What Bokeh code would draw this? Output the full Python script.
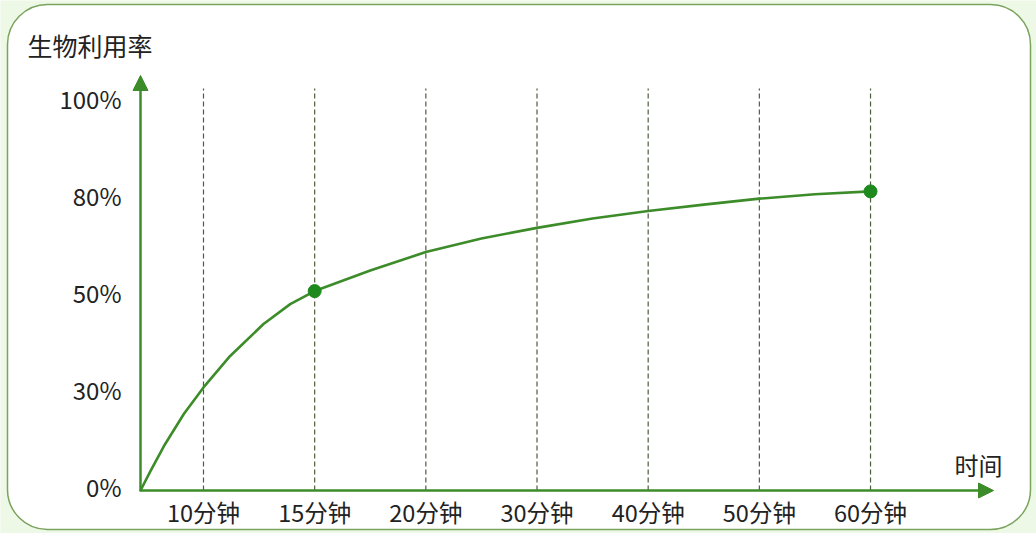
import numpy as np
from bokeh.plotting import figure
from bokeh.models import Range1d, Arrow, NormalHead
from bokeh.core.properties import value
from bokeh.embed import file_html
from bokeh.resources import INLINE

# ---------------- data ----------------
y_title = "生物利用率"
x_title = "时间"
tick_minutes = [10, 15, 20, 30, 40, 50, 60]
tick_labels = ["10分钟", "15分钟", "20分钟", "30分钟", "40分钟", "50分钟", "60分钟"]
y_tick_values = [0, 30, 50, 80, 100]
y_tick_labels = ["0%", "30%", "50%", "80%", "100%"]

# bioavailability curve (minutes, percent)
curve_minutes = [0, 1.6, 3.7, 6.9, 10, 11.2, 12.7, 13.9, 15, 17.5, 20, 25, 30, 35, 40, 45, 50, 55, 60]
curve_percent = [0, 6.1, 13.7, 23.8, 31.3, 37.8, 44.4, 48.5, 51.8, 58.2, 63.9, 68.1, 71.4,
                 74.3, 76.6, 78.6, 80.3, 81.2, 81.8]
marker_minutes = [15, 60]
marker_percent = [51.8, 81.8]

# ---------------- layout (pixel geometry) ----------------
W, H = 1036, 533
SLOT_PX = 111.17            # px between time ticks
SLOT1_PX = 203.0            # x of first tick
LEVEL_PX = 96.8             # px between y ticks
BASE_PX = 490.0             # y of the x-axis
ORIGIN_SLOT = 1 + (140 - SLOT1_PX) / SLOT_PX


def sx(px):
    return 1 + (px - SLOT1_PX) / SLOT_PX


def sy(py):
    return (BASE_PX - py) / LEVEL_PX


def t2x(t):
    return np.interp(t, [0] + tick_minutes, [ORIGIN_SLOT] + list(range(1, len(tick_minutes) + 1)))


def v2y(v):
    return np.interp(v, y_tick_values, list(range(len(y_tick_values))))


p = figure(width=W, height=H, output_backend="svg", toolbar_location=None,
           x_range=Range1d(sx(0), sx(W)), y_range=Range1d(sy(H), sy(0)),
           x_axis_location=None, y_axis_location=None,
           min_border=0, min_border_left=0, min_border_right=0,
           min_border_top=0, min_border_bottom=0)
p.grid.visible = False
p.outline_line_color = None
p.background_fill_color = "#eef8e6"
p.border_fill_color = "#eef8e6"

# card
p.quad(left=[sx(7)], right=[sx(1030)], top=[sy(4)], bottom=[sy(529)],
       fill_color="white", line_color="#7aa35e", line_width=1.5, border_radius=40)

FONT = value("Noto Sans CJK SC")
GREEN = "#3c8c2a"

tick_x = t2x(np.array(tick_minutes))
# dashed guides
p.segment(x0=tick_x, y0=[0] * len(tick_x), x1=tick_x, y1=[sy(88)] * len(tick_x),
          line_color="#4c5d3c", line_width=1.2, line_dash="5 3")

# axes with arrows
p.add_layout(Arrow(end=NormalHead(size=15, fill_color=GREEN, line_color=GREEN, line_width=1),
                   x_start=ORIGIN_SLOT, y_start=0, x_end=ORIGIN_SLOT, y_end=sy(75),
                   line_color=GREEN, line_width=2.5))
p.add_layout(Arrow(end=NormalHead(size=15, fill_color=GREEN, line_color=GREEN, line_width=1),
                   x_start=ORIGIN_SLOT, y_start=0, x_end=sx(993), y_end=0,
                   line_color=GREEN, line_width=2.5))

# curve and markers
p.line(t2x(np.array(curve_minutes)), v2y(np.array(curve_percent)),
       line_color=GREEN, line_width=2.6, line_join="round", line_cap="round")
p.scatter(t2x(np.array(marker_minutes)), v2y(np.array(marker_percent)),
          size=13, fill_color="#1e8a1e", line_color="#1e8a1e")

# tick labels
p.text(x=[sx(121)] * len(y_tick_labels), y=v2y(np.array(y_tick_values)) + 0.045,
       text=y_tick_labels, text_font=FONT, text_font_size="24px",
       text_align="right", text_baseline="middle", text_color="#222222")
p.text(x=tick_x, y=[sy(511)] * len(tick_x), text=tick_labels, text_font=FONT,
       text_font_size="23.5px", text_align="center", text_baseline="middle",
       text_color="#222222")

# axis titles
p.text(x=[sx(27)], y=[sy(44)], text=[y_title], text_font=FONT, text_font_size="25px",
       text_align="left", text_baseline="middle", text_color="#222222")
p.text(x=[sx(978)], y=[sy(464)], text=[x_title], text_font=FONT, text_font_size="24px",
       text_align="center", text_baseline="middle", text_color="#222222")

open("out.html", "w").write(file_html(p, INLINE))
